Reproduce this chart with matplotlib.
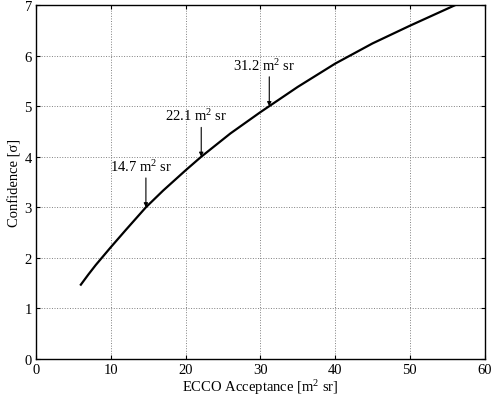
import numpy as np
import matplotlib
matplotlib.use("Agg")
import matplotlib.pyplot as plt

# values
acceptance = [6.0, 7.0, 8.0, 10.0, 12.0, 14.7, 17.0, 20.0, 22.1, 26.0,
              30.0, 31.2, 35.0, 40.0, 45.0, 50.0, 56.1]
confidence = [1.47, 1.67, 1.86, 2.21, 2.55, 3.0, 3.33, 3.73, 4.0, 4.46,
              4.88, 5.0, 5.38, 5.84, 6.24, 6.59, 7.0]

marked_x = [14.7, 22.1, 31.2]
marked_y = [3.0, 4.0, 5.0]
marked_lbl = ["14.7 m$^2$ sr", "22.1 m$^2$ sr", "31.2 m$^2$ sr"]

plt.rcParams['font.family'] = ['Liberation Serif', 'DejaVu Serif']
plt.rcParams['mathtext.fontset'] = 'custom'
plt.rcParams['mathtext.rm'] = 'Liberation Serif'
plt.rcParams['mathtext.it'] = 'Liberation Serif:italic'

fig = plt.figure(figsize=(4.91, 4.06), dpi=100)
ax = fig.add_axes([0.0733, 0.1133, 0.9137, 0.8719])

ax.plot(acceptance, confidence, color='k', lw=1.6)

for x, y, s in zip(marked_x, marked_y, marked_lbl):
    ax.annotate("", xy=(x, y), xytext=(x, y + 0.58),
                arrowprops=dict(arrowstyle='-|>', lw=0.8, color='k',
                                mutation_scale=6, shrinkA=0, shrinkB=0))
    ax.text(x - 0.7, y + 0.82, s, ha='center', va='center', fontsize=10.5)

ax.set_xlim(0, 60)
ax.set_ylim(0, 7)
ax.set_xticks(np.arange(0, 61, 10))
ax.set_yticks(np.arange(0, 8, 1))
ax.grid(True, linestyle=':', color='#808080', lw=0.7)
ax.tick_params(direction='in', top=True, right=True, length=3,
               labelsize=10.5, pad=3)
for sp in ax.spines.values():
    sp.set_linewidth(1.0)

ax.set_xlabel("ECCO Acceptance [m$^2$ sr]", fontsize=10.5, labelpad=1)
ax.set_ylabel("Confidence [\u03c3]", fontsize=10.5, labelpad=2)

fig.savefig("out.png", dpi=100)
